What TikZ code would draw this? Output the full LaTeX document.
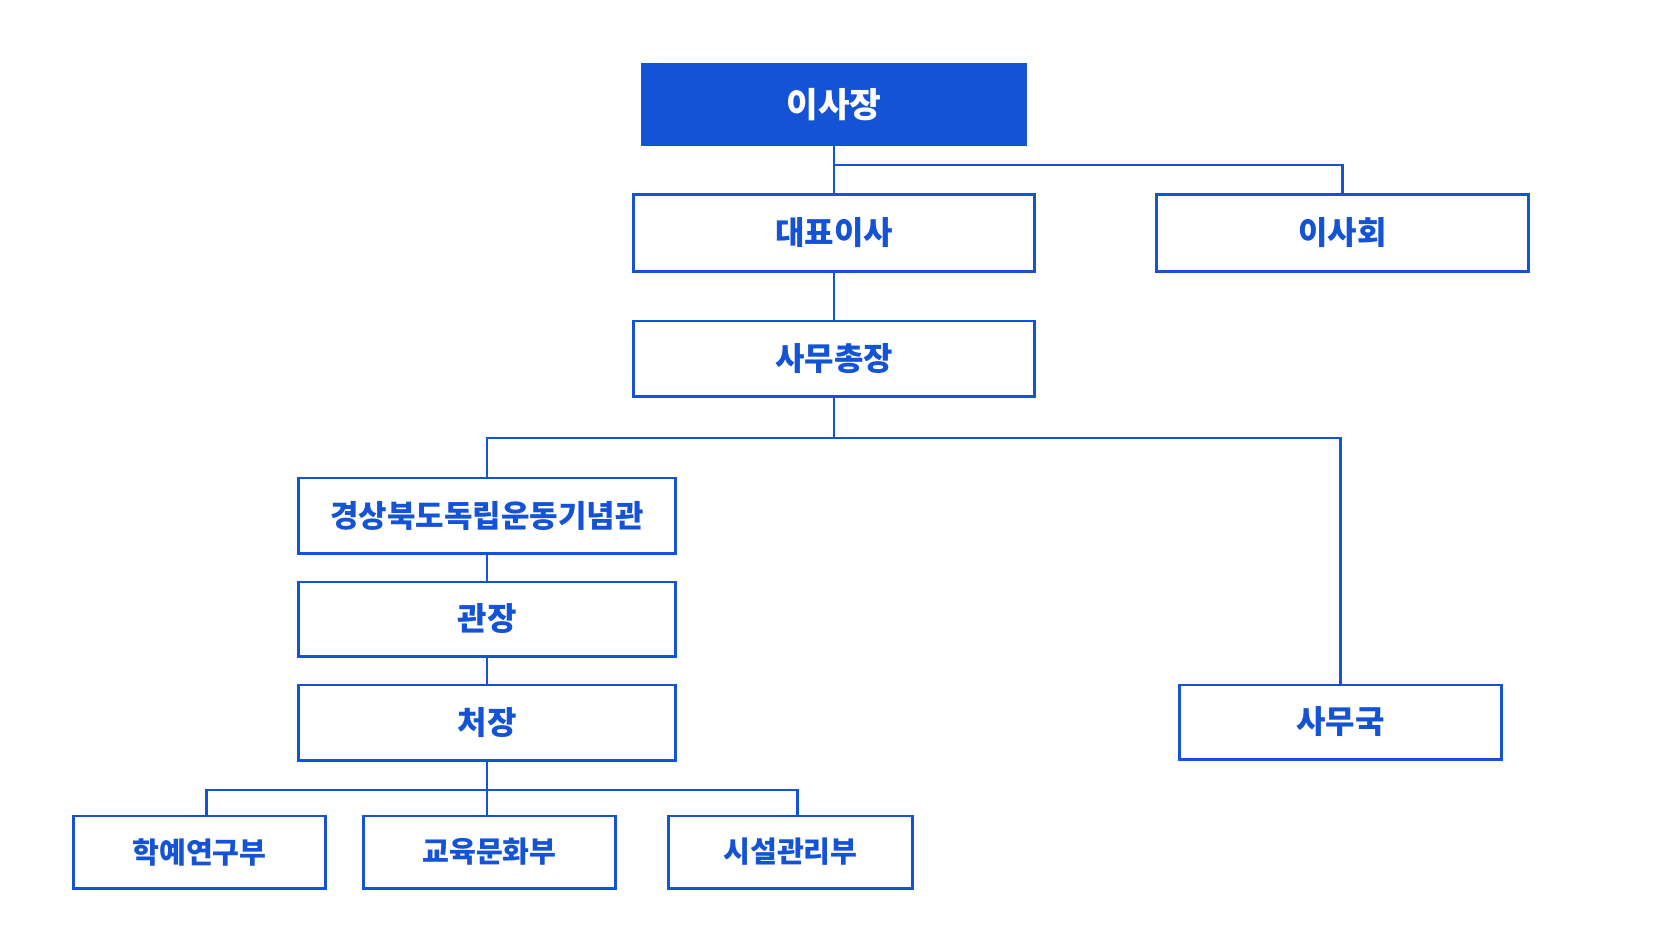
\documentclass[tikz,border=0pt]{standalone}
\usepackage{fontspec}
\setmainfont{Noto Sans CJK KR}
\definecolor{orgblue}{RGB}{20, 82, 214}
\usetikzlibrary{positioning, calc}

\begin{document}
\begin{tikzpicture}[x=0.01cm, y=-0.01cm,
    unit/.style={draw=orgblue, line width=0.85pt, fill=white, text=orgblue,
                 font=\bfseries\fontsize{9.1}{10}\selectfont, inner sep=0pt,
                 minimum width=4cm, minimum height=0.76cm},
    dept/.style={unit, font=\bfseries\fontsize{8.3}{9}\selectfont,
                 minimum width=2.51cm, minimum height=0.72cm},
    link/.style={draw=orgblue, line width=0.8pt}]
                \useasboundingbox (0,0) rectangle (1672,941);

                % Top level
                \node[unit, fill=orgblue, text=white, font=\bfseries\fontsize{9.8}{11}\selectfont,
                      minimum width=3.82cm, minimum height=0.79cm] (chair) at (834,104.5) {이사장};
                \node[unit] (ceo) at (834,233) {대표이사};
                \node[unit, minimum width=3.71cm] (board) at (1342.5,233) {이사회};
                \node[unit, minimum height=0.75cm] (secgen) at (834,358.5) {사무총장};

                % Museum branch
                \node[unit, minimum width=3.76cm, minimum height=0.75cm,
                      font=\bfseries\fontsize{8.8}{10}\selectfont] (museum) at (487,515.5) {경상북도독립운동기념관};
                \node[unit, minimum width=3.76cm, minimum height=0.74cm] (director) at (487,619) {관장};
                \node[unit, minimum width=3.76cm, minimum height=0.75cm] (chief) at (487,722.5) {처장};
                \node[unit, minimum width=3.21cm, minimum height=0.74cm] (office) at (1340.5,722) {사무국};

                % Departments
                \node[dept] (research) at (199.5,852) {학예연구부};
                \node[dept] (education) at (489.5,852) {교육문화부};
                \node[dept, minimum width=2.43cm] (facility) at (790.5,852) {시설관리부};

                % Junctions
                \coordinate (j1) at (834,165);
                \coordinate (j2) at (834,438);
                \coordinate (j3) at (487,790);

                % Connectors
                \draw[link] (chair.south) -- (ceo.north);
                \draw[link] (j1) -| (board.north);
                \draw[link] (ceo.south) -- (secgen.north);
                \draw[link] (secgen.south) -- (j2);
                \draw[link] (museum.north) |- (j2) -| (office.north);
                \draw[link] (museum.south) -- (director.north);
                \draw[link] (director.south) -- (chief.north);
                \draw[link] (chief.south) -- (j3);
                \draw[link] ([xshift=0.07cm]research.north) |- (j3) -| ([xshift=0.07cm]facility.north);
                \draw[link] (j3) -- (j3 |- education.north);
            \end{tikzpicture}
\end{document}
